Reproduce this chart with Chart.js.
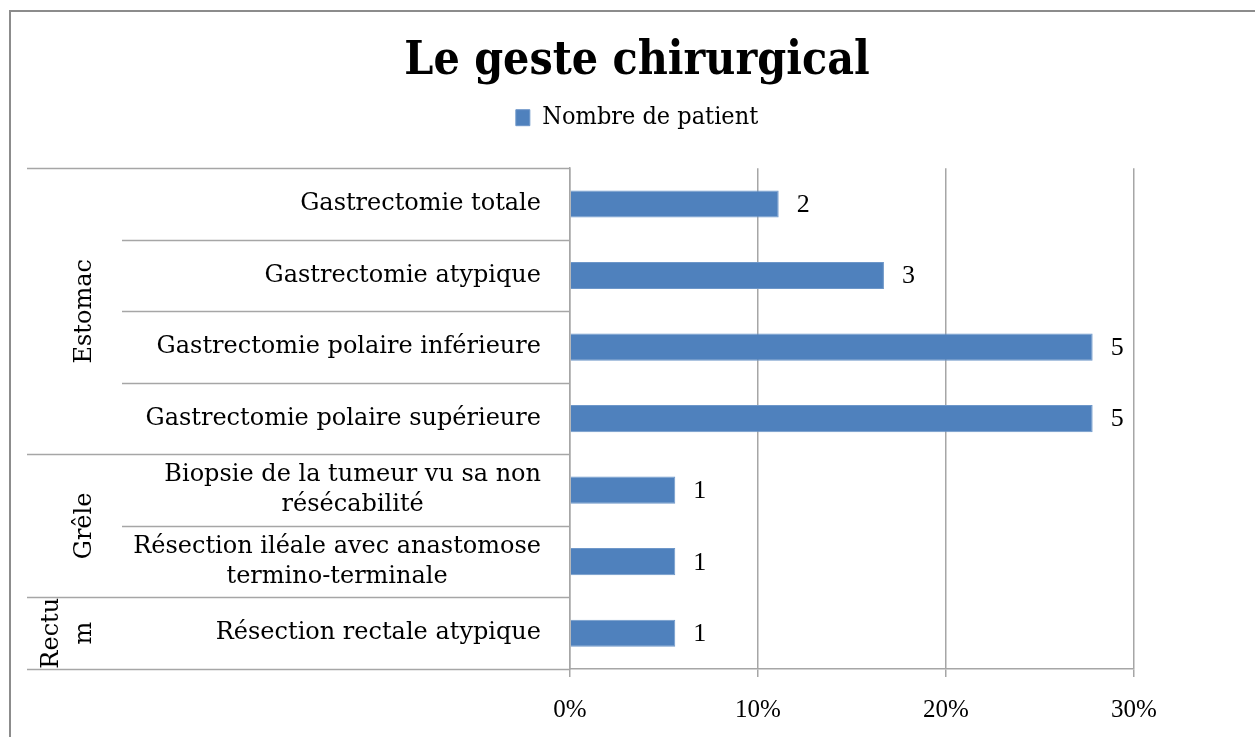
<!DOCTYPE html>
<html>
<head>
<meta charset="utf-8">
<style>
  html, body { margin: 0; padding: 0; background: #fff; overflow: hidden; }
  #wrap { width: 1255px; height: 737px; position: relative; }
</style>
<script src="https://cdn.jsdelivr.net/npm/chart.js@4.4.0/dist/chart.umd.min.js"></script>
</head>
<body>
<div id="wrap"><canvas id="chart"></canvas></div>
<script>
// Data
const categories = [
  ['Gastrectomie totale'],
  ['Gastrectomie atypique'],
  ['Gastrectomie polaire inférieure'],
  ['Gastrectomie polaire supérieure'],
  ['Biopsie de la tumeur vu sa non', 'résécabilité'],
  ['Résection iléale avec anastomose', 'termino-terminale'],
  ['Résection rectale atypique']
];
const patients = [2, 3, 5, 5, 1, 1, 1];          // labels shown on the bars
const percents = [11.1, 16.7, 27.8, 27.8, 5.6, 5.6, 5.6]; // bar lengths (%)
const groups = [['Estomac'], ['Grêle'], ['Rectu', 'm']];
const groupSizes = [4, 2, 1];
const xTicks = [0, 10, 20, 30];

const SERIF = '"DejaVu Serif", serif';
const COND = '"DejaVu Serif Condensed", "Liberation Serif", serif';
const TIMES = '"Liberation Serif", serif';
const GRID = '#a6a6a6';

// frame, category labels, separators, group labels and value labels
const decor = {
  id: 'decor',
  afterInit(chart) {
    // leave room between the legend and the plot
    const lg = chart.legend;
    const fit = lg.fit.bind(lg);
    lg.fit = function () { fit(); this.height += 28; };
  },
  beforeDraw(chart) {
    const ctx = chart.ctx;
    ctx.save();
    ctx.fillStyle = '#fff';
    ctx.fillRect(0, 0, chart.width, chart.height);
    ctx.strokeStyle = '#8c8c8c';
    ctx.lineWidth = 2;
    ctx.strokeRect(10, 11, chart.width + 20, chart.height + 20);
    ctx.restore();
  },
  afterDraw(chart) {
    const { ctx, chartArea, scales: { x, y } } = chart;
    const n = categories.length;
    const half = (y.getPixelForTick(1) - y.getPixelForTick(0)) / 2;
    const edge = i => i < n ? y.getPixelForTick(i) - half : y.getPixelForTick(n - 1) + half;
    ctx.save();

    // separators
    const starts = [0];
    groupSizes.forEach(s => starts.push(starts[starts.length - 1] + s));
    ctx.strokeStyle = GRID;
    ctx.lineWidth = 1.5;
    for (let i = 0; i <= n; i++) {
      const py = Math.round(edge(i)) + 0.5;
      ctx.beginPath();
      ctx.moveTo(starts.includes(i) ? 27 : 122, py);
      ctx.lineTo(chartArea.left, py);
      ctx.stroke();
    }

    // category labels: block right aligned, lines centred in block
    ctx.fillStyle = '#000';
    ctx.font = '24px ' + SERIF;
    ctx.textBaseline = 'middle';
    ctx.textAlign = 'center';
    categories.forEach((lines, i) => {
      const w = Math.max(...lines.map(t => ctx.measureText(t).width));
      const cx = 541 - w / 2;
      const cy = y.getPixelForTick(i);
      lines.forEach((t, k) => {
        ctx.fillText(t, cx, cy + (k - (lines.length - 1) / 2) * 30);
      });
    });

    // group labels, rotated
    ctx.font = '24px ' + SERIF;
    groups.forEach((lines, g) => {
      const cy = (edge(starts[g]) + edge(starts[g + 1])) / 2;
      lines.forEach((t, k) => {
        const px = 85 - (lines.length - 1 - k) * 33;
        ctx.save();
        ctx.translate(px, cy);
        ctx.rotate(-Math.PI / 2);
        ctx.fillText(t, 0, 0);
        ctx.restore();
      });
    });

    // value labels
    ctx.font = '26px ' + TIMES;
    ctx.textAlign = 'left';
    patients.forEach((v, i) => {
      ctx.fillText(String(v), x.getPixelForValue(percents[i]) + 18, y.getPixelForTick(i) + 1);
    });
    ctx.restore();
  }
};

new Chart(document.getElementById('chart'), {
  type: 'bar',
  data: {
    labels: categories,
    datasets: [{
      label: 'Nombre de patient',
      data: percents,
      backgroundColor: '#4f81bd',
      borderColor: '#6e97c9',
      borderWidth: 1,
      barPercentage: 0.38,
      categoryPercentage: 1
    }]
  },
  options: {
    indexAxis: 'y',
    responsive: true,
    maintainAspectRatio: false,
    animation: false,
    layout: { padding: { top: 0, right: 121, bottom: 0, left: 140 } },
    plugins: {
      title: {
        display: true,
        text: 'Le geste chirurgical',
        color: '#000',
        font: { family: COND, weight: 'bold', size: 46 },
        padding: { top: 34, bottom: 7 }
      },
      legend: {
        display: true,
        position: 'top',
        labels: {
          color: '#000',
          boxWidth: 14,
          boxHeight: 16,
          padding: 9,
          font: { family: COND, size: 25 }
        }
      },
      tooltip: { enabled: false }
    },
    scales: {
      x: {
        min: 0,
        max: 30,
        afterBuildTicks: s => { s.ticks = xTicks.map(v => ({ value: v })); },
        ticks: {
          color: '#000',
          font: { family: TIMES, size: 25 },
          padding: 18,
          callback: v => v + '%'
        },
        grid: { color: GRID, lineWidth: 1.5, tickLength: 8 },
        border: { color: GRID, width: 1.5 },
        afterFit: s => { s.height = 68; }
      },
      y: {
        ticks: { display: false },
        grid: { display: false },
        border: { color: GRID, width: 1.5 },
        afterFit: s => { s.width = 430; }
      }
    }
  },
  plugins: [decor]
});
</script>
</body>
</html>
